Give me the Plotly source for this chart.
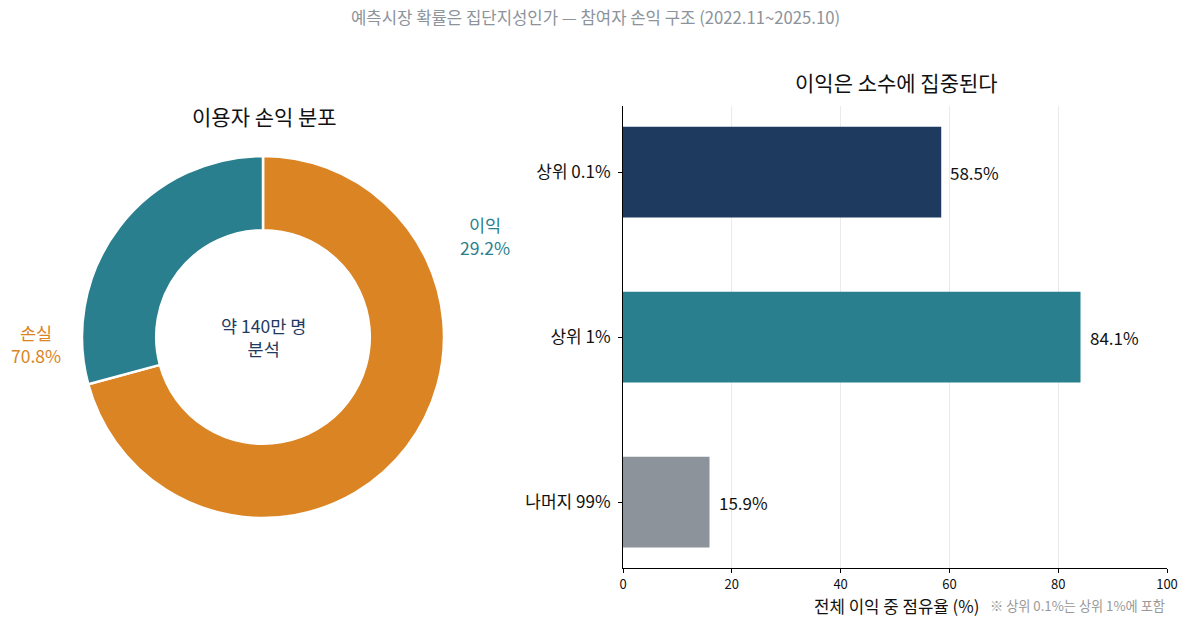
import plotly.graph_objects as go

FONT = "Noto Sans CJK KR"

pie_labels = ["손실", "이익"]
pie_values = [70.8, 29.2]
pie_colors = ["#DB8424", "#2A7F8E"]

bar_cats = ["상위 0.1%", "상위 1%", "나머지 99%"]
bar_vals = [58.5, 84.1, 15.9]
bar_colors = ["#1F3A5F", "#2A7F8E", "#8C939B"]

x_ticks = [0, 20, 40, 60, 80, 100]

W, H = 1189, 625
def px(x): return x / W
def py(y): return 1 - y / H

fig = go.Figure()

fig.add_trace(go.Pie(
    labels=pie_labels, values=pie_values, hole=0.59, sort=False,
    direction="clockwise", rotation=0,
    marker=dict(colors=pie_colors, line=dict(color="white", width=2.5)),
    textinfo="none", hoverinfo="label+percent", showlegend=False,
    domain=dict(x=[px(82), px(444)], y=[py(518), py(156)]),
))

fig.add_trace(go.Bar(
    x=bar_vals, y=bar_cats, orientation="h", width=0.55,
    marker=dict(color=bar_colors, line=dict(width=0)),
    textposition="none", showlegend=False,
))

fig.update_layout(
    width=W, height=H, margin=dict(l=0, r=0, t=0, b=0, pad=0),
    paper_bgcolor="white", plot_bgcolor="white",
    font=dict(family=FONT, color="#111111"),
    xaxis=dict(domain=[px(623), px(1167)], range=[0, 100], tickvals=x_ticks,
               showgrid=True, gridcolor="#EBEBEB", gridwidth=1,
               showline=True, linecolor="black", linewidth=1,
               ticks="outside", ticklen=4, tickcolor="black",
               tickfont=dict(size=13, color="#111111"), zeroline=False,
               automargin=False),
    yaxis=dict(domain=[py(568), py(106)], range=[2.4, -0.4],
               showgrid=False, showline=True, linecolor="black", linewidth=1,
               ticks="outside", ticklen=4, tickcolor="black",
               tickfont=dict(size=17, color="#111111"), zeroline=False,
               ticklabelstandoff=4, automargin=False),
)

ann = []
for c, v in zip(bar_cats, bar_vals):
    ann.append(dict(x=v, y=c, xref="x", yref="y", text=f"{v}%", showarrow=False,
                    xanchor="left", yanchor="middle", xshift=7,
                    font=dict(size=17, color="#111111")))
ann.append(dict(x=px(595), y=py(17), text="예측시장 확률은 집단지성인가 — 참여자 손익 구조 (2022.11~2025.10)",
                font=dict(size=16.7, color="#8C939B"), showarrow=False,
                xref="paper", yref="paper", xanchor="center", yanchor="middle"))
ann.append(dict(x=px(264), y=py(116), text="이용자 손익 분포", font=dict(size=21, color="#111111"),
                showarrow=False, xref="paper", yref="paper", xanchor="center", yanchor="middle"))
ann.append(dict(x=px(896), y=py(82), text="이익은 소수에 집중된다", font=dict(size=21, color="#111111"),
                showarrow=False, xref="paper", yref="paper", xanchor="center", yanchor="middle"))
ann.append(dict(x=px(263), y=py(337), text="약 140만 명<br>분석", font=dict(size=17.5, color="#1F3A5F"),
                showarrow=False, xref="paper", yref="paper", xanchor="center", yanchor="middle"))
ann.append(dict(x=px(485), y=py(236), text=f"{pie_labels[1]}<br>{pie_values[1]}%", font=dict(size=17.5, color=pie_colors[1]),
                showarrow=False, xref="paper", yref="paper", xanchor="center", yanchor="middle"))
ann.append(dict(x=px(36), y=py(344), text=f"{pie_labels[0]}<br>{pie_values[0]}%", font=dict(size=17.5, color=pie_colors[0]),
                showarrow=False, xref="paper", yref="paper", xanchor="center", yanchor="middle"))
ann.append(dict(x=px(896), y=py(606), text="전체 이익 중 점유율 (%)", font=dict(size=16.8, color="#111111"),
                showarrow=False, xref="paper", yref="paper", xanchor="center", yanchor="middle"))
ann.append(dict(x=px(1167), y=py(605), text="※ 상위 0.1%는 상위 1%에 포함", font=dict(size=13.2, color="#999999"),
                showarrow=False, xref="paper", yref="paper", xanchor="right", yanchor="middle"))
fig.update_layout(annotations=ann)

fig.write_html("out.html")
